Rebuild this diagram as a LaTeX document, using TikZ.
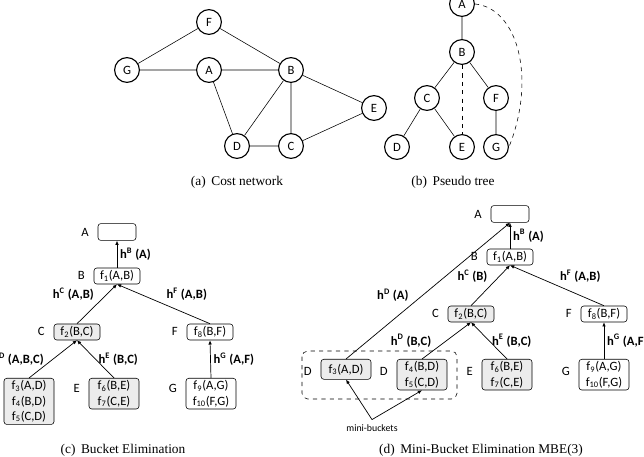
\documentclass[tikz,border=0pt]{standalone}
\usepackage{fontspec}
\setmainfont{Liberation Serif}
\newfontfamily\nodefont{Carlito}
\usetikzlibrary{positioning,arrows.meta}

\tikzset{
	var/.style={draw, circle, line width=0.8pt, minimum size=0.62cm, inner sep=0pt, font=\nodefont\small},
	bucket/.style={draw, rounded corners=2pt, minimum width=1.15cm, minimum height=0.4cm, inner sep=1.5pt, align=center, font=\nodefont\small},
	shaded/.style={bucket, fill=gray!15},
	msg/.style={-{Latex[length=3pt,width=2.6pt]}, line width=0.5pt},
	hlabel/.style={font=\nodefont\small\bfseries, inner sep=2pt},
	blabel/.style={font=\nodefont\small, anchor=east},
	caption/.style={font=\fontsize{9.5}{11}\selectfont}
}
\newcommand{\fn}[2]{f\textsubscript{#1}(#2)}
\newcommand{\hmsg}[2]{h\textsuperscript{#1} (#2)}

\begin{document}
\begin{tikzpicture}[x=0.025cm, y=-0.025cm]
	\useasboundingbox (0,0) rectangle (644,457);
	
	% (a) cost network
	\node[var] (aF) at (209,22) {F};
	\node[var] (aG) at (127,70) {G};
	\node[var] (aA) at (209,70) {A};
	\node[var] (aB) at (291,70) {B};
	\node[var] (aE) at (374,108) {E};
	\node[var] (aD) at (237,146) {D};
	\node[var] (aC) at (291,146) {C};
	\draw (aG) -- (aF) (aF) -- (aB) (aG) -- (aA) (aA) -- (aB);
	\draw (aA) -- (aD) (aB) -- (aD) (aB) -- (aC) (aB) -- (aE);
	\draw (aD) -- (aC) (aC) -- (aE);
	\node[caption] (capa) at (237,182) {(a)\, Cost network};
	
	% (b) pseudo tree
	\node[var] (bA) at (462,4) {A};
	\node[var] (bB) at (462,52) {B};
	\node[var] (bC) at (427,98) {C};
	\node[var] (bF) at (496,98) {F};
	\node[var] (bD) at (397,147) {D};
	\node[var] (bE) at (462,147) {E};
	\node[var] (bG) at (496,147) {G};
	\draw (bA) -- (bB) (bB) -- (bC) (bB) -- (bF);
	\draw (bC) -- (bD) (bC) -- (bE) (bF) -- (bG);
	\draw[dashed] (bB) -- (bE);
	\draw[dashed] (bA.east) .. controls +(42,4) and +(28,-70) .. (bG.east);
	\node[caption] (capb) at (453,182) {(b)\, Pseudo tree};
	
	% (c) bucket elimination
	\node[bucket, minimum width=0.95cm, minimum height=0.42cm] (cA) at (117,232) {};
	\node[bucket] (cB) at (117,276) {\fn{1}{A,B}};
	\node[shaded] (cC) at (77,332) {\fn{2}{B,C}};
	\node[bucket] (cF) at (210,332) {\fn{8}{B,F}};
	\node[shaded, anchor=north, minimum width=1.25cm] (cD) at (29,378) {\fn{3}{A,D}\\\fn{4}{B,D}\\\fn{5}{C,D}};
	\node[shaded, anchor=north, minimum width=1.25cm] (cE) at (114,378) {\fn{6}{B,E}\\\fn{7}{C,E}};
	\node[bucket, anchor=north, minimum width=1.25cm] (cG) at (211,378) {\fn{9}{A,G}\\\fn{10}{F,G}};
	\node[blabel] at ([xshift=-1mm,yshift=-2.2mm]cA.north west) {A};
	\node[blabel] at ([xshift=-1mm,yshift=-2mm]cB.north west) {B};
	\node[blabel] at ([xshift=-1mm,yshift=-2mm]cC.north west) {C};
	\node[blabel] at ([xshift=-1mm,yshift=-2mm]cF.north west) {F};
	\node[blabel] at ([xshift=-1mm,yshift=-2.5mm]cE.north west) {E};
	\node[blabel] at ([xshift=-1mm,yshift=-2.5mm]cG.north west) {G};
	
	\draw[msg] (cB) -- (cA) node[hlabel, midway, right] {\hmsg{B}{A}};
	\draw[msg] (cC.north) -- (cB.south) node[hlabel, midway, above left] {\hmsg{C}{A,B}};
	\draw[msg] (cF.north) -- (cB.south) node[hlabel, midway, above right] {\hmsg{F}{A,B}};
	\draw[msg] (cD.north) -- (cC.south) node[hlabel, midway, left=1.5mm] {\hmsg{D}{A,B,C}};
	\draw[msg] (cE.north) -- (cC.south) node[hlabel, midway, right] {\hmsg{E}{B,C}};
	\draw[msg] (cG.north) -- (cF.south) node[hlabel, midway, right] {\hmsg{G}{A,F}};
	\node[caption] (capc) at (123,450) {(c)\, Bucket Elimination};
	
	% (d) mini-bucket elimination
	\node[bucket, minimum width=0.95cm, minimum height=0.42cm] (dA) at (510,214) {};
	\node[bucket] (dB) at (510,257) {\fn{1}{A,B}};
	\node[shaded] (dC) at (471,314) {\fn{2}{B,C}};
	\node[bucket] (dF) at (604,314) {\fn{8}{B,F}};
	\node[shaded, anchor=north, minimum width=1.25cm, minimum height=0.5cm] (dD1) at (346,359) {\fn{3}{A,D}};
	\node[shaded, anchor=north, minimum width=1.25cm] (dD2) at (422,359) {\fn{4}{B,D}\\\fn{5}{C,D}};
	\node[shaded, anchor=north, minimum width=1.25cm] (dE) at (507,359) {\fn{6}{B,E}\\\fn{7}{C,E}};
	\node[bucket, anchor=north, minimum width=1.25cm] (dG) at (604,359) {\fn{9}{A,G}\\\fn{10}{F,G}};
	\node[blabel] at ([xshift=-1mm,yshift=-2.2mm]dA.north west) {A};
	\node[blabel] at ([xshift=-1mm,yshift=-2mm]dB.north west) {B};
	\node[blabel] at ([xshift=-1mm,yshift=-2mm]dC.north west) {C};
	\node[blabel] at ([xshift=-1mm,yshift=-2mm]dF.north west) {F};
	\node[blabel] at ([xshift=-1mm,yshift=-3mm]dD1.north west) {D};
	\node[blabel] at ([xshift=-1mm,yshift=-3mm]dD2.north west) {D};
	\node[blabel] at ([xshift=-1mm,yshift=-3mm]dE.north west) {E};
	\node[blabel] at ([xshift=-1mm,yshift=-3mm]dG.north west) {G};
	
	\draw[msg] (dB) -- (dA) node[hlabel, midway, right] {\hmsg{B}{A}};
	\draw[msg] (dC.north) -- (dB.south) node[hlabel, midway, above left] {\hmsg{C}{B}};
	\draw[msg] (dF.north) -- (dB.south) node[hlabel, midway, above right] {\hmsg{F}{A,B}};
	\draw[msg] (dD1.north) -- (dA.south) node[hlabel, pos=0.4, above left] {\hmsg{D}{A}};
	\draw[msg] (dD2.north) -- (dC.south) node[hlabel, midway, left=3mm] {\hmsg{D}{B,C}};
	\draw[msg] (dE.north) -- (dC.south) node[hlabel, midway, right] {\hmsg{E}{B,C}};
	\draw[msg] (dG.north) -- (dF.south) node[hlabel, midway, right] {\hmsg{G}{A,F}};
	
	\draw[dashed, rounded corners=4pt] (302,351) rectangle (457,399);
	\node[font=\nodefont\scriptsize] (mb) at (372,428) {mini-buckets};
	\draw[msg] (mb.north) -- (dD1.south);
	\draw[msg] (mb.north) -- (dD2.south);
	\node[caption] (capd) at (481,450) {(d)\, Mini-Bucket Elimination MBE(3)};
\end{tikzpicture}
\end{document}
